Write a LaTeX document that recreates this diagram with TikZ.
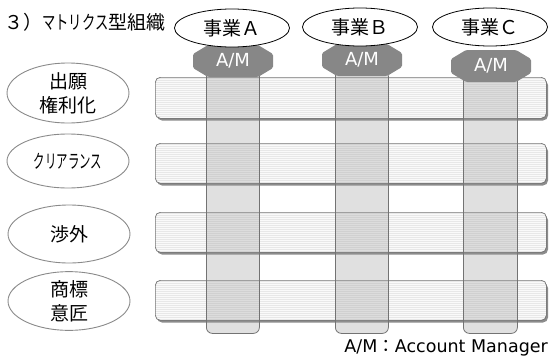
\documentclass[tikz,border=0pt]{standalone}
\usepackage{fontspec}
\usepackage{graphicx}
\setmainfont{Noto Sans CJK JP}
\newfontfamily\latinfont{DejaVu Sans}
\usetikzlibrary{shapes.geometric}
\definecolor{amgray}{HTML}{878787}
\definecolor{edgegray}{HTML}{8A8A8A}
\newcommand{\narrowkana}[2]{\scalebox{#1}[1]{#2}}
\newcommand{\amshape}[2]{\fill[amgray,rounded corners=1.5pt,shift={(#1,#2)}] (-40,-7) -- (-25,-16) -- (25,-16) -- (40,-7) -- (40,7) -- (25,16) -- (-25,16) -- (-40,7) -- cycle;}
\tikzset{
  biz/.style={ellipse,draw=black,line width=0.8pt,fill=white,minimum width=115pt,minimum height=38pt,inner sep=0pt,font=\fontsize{19}{21}\selectfont},
  func/.style={ellipse,draw=edgegray,line width=0.9pt,fill=white,minimum width=122pt,minimum height=56pt,inner sep=0pt,align=center,font=\fontsize{19}{24}\selectfont},
  amtext/.style={minimum width=80pt,minimum height=32pt,inner sep=0pt,text=white,font=\latinfont\fontsize{18}{20}\selectfont},
  colbox/.style={rounded corners=6pt,draw=black!55,line width=0.8pt,fill=black!40,fill opacity=0.3,minimum height=263pt,anchor=north west,inner sep=0pt},
  barbox/.style={rounded corners=5pt,draw=black!55,line width=0.7pt,inner sep=0pt,anchor=north west},
}
\begin{document}
\begin{tikzpicture}[x=1pt,y=-1pt]
\useasboundingbox (0,0) rectangle (551,362);
% bars
\foreach \t/\b [count=\i] in {77/118,143/183,212/252,280/320}{
  \fill[black!45,rounded corners=5pt] (157,\t+3) rectangle (548,\b+2.5);
  \begin{scope}
    \clip[rounded corners=5pt] (155,\t) rectangle (546,\b);
    \fill[black!2] (155,\t) rectangle (546,\b);
    \foreach \yy in {1.5,3.5,...,41}{\draw[black!9,line width=0.5pt] (155,\t+\yy) -- (546,\t+\yy);}
  \end{scope}
  \node[barbox,minimum width=391pt,minimum height=\b pt-\t pt] (bar\i) at (155,\t) {};
}
% columns
\node[colbox,minimum width=53pt] (colA) at (206,70) {};
\node[colbox,minimum width=53pt] (colB) at (335,70) {};
\node[colbox,minimum width=54pt] (colC) at (463,70) {};
% AM octagons
\amshape{233}{61}
\amshape{362}{60}
\amshape{491}{66}
\node[amtext] (amA) at (233,61) {A/M};
\node[amtext] (amB) at (362,60) {A/M};
\node[amtext] (amC) at (491,66) {A/M};
% business ellipses
\node[biz] (bizA) at (232,28) {事業Ａ};
\node[biz] (bizB) at (360,27) {事業Ｂ};
\node[biz] (bizC) at (490,27) {事業Ｃ};
% function ellipses
\node[func,minimum height=60pt] (f1) at (68,93) {出願\\権利化};
\node[func,minimum height=54pt] (f2) at (68,161) {\narrowkana{0.6}{クリアランス}};
\node[func,minimum height=58pt] (f3) at (69,234) {渉外};
\node[func,minimum height=58pt] (f4) at (69,301) {商標\\意匠};
% title and footer
\node[anchor=west,inner sep=0pt,font=\fontsize{19}{21}\selectfont] (title) at (4,22) {３）\narrowkana{0.7}{マトリクス}型組織};
\node[anchor=east,inner sep=0pt,font=\fontsize{17.5}{20}\selectfont] (foot) at (548,348) {{\latinfont A/M}：{\latinfont Account Manager}};
\end{tikzpicture}
\end{document}
